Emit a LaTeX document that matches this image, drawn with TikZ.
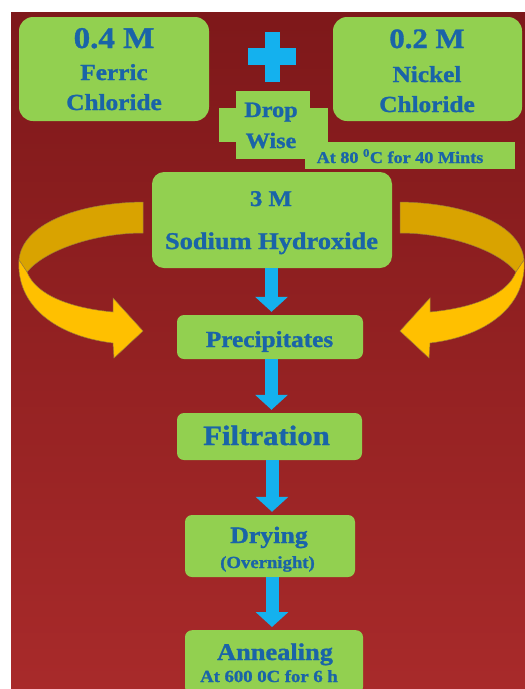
\documentclass[tikz,border=0pt]{standalone}
\usepackage{fontspec}
\setmainfont{Liberation Serif}[FakeStretch=1.1, BoldFeatures={FakeBold=1.2}]
\usetikzlibrary{arrows.meta}

\definecolor{bgtop}{HTML}{7E181A}
\definecolor{bgmid}{HTML}{A53030}
\definecolor{bgbot}{HTML}{A82A2A}
\definecolor{boxgreen}{HTML}{92D050}
\definecolor{txtblue}{HTML}{1A64A8}
\definecolor{flowblue}{HTML}{14B1EE}
\definecolor{swirlfront}{HTML}{FFC000}
\definecolor{swirlback}{HTML}{D9A300}
\definecolor{swirledge}{HTML}{9C7C38}

\begin{document}
\begin{tikzpicture}[x=1pt,y=-1pt,
    chem/.style={fill=boxgreen, rounded corners=14pt, inner sep=0pt},
    stepbox/.style={fill=boxgreen, rounded corners=7pt, inner sep=0pt},
    plainbox/.style={fill=boxgreen, inner sep=0pt},
    txt/.style={text=txtblue, anchor=base, inner sep=0pt, font=\bfseries\fontsize{#1}{#1}\selectfont},
    flow/.style={draw=flowblue, line width=13pt, -{Triangle[width=32pt,length=15pt]}, shorten >=3pt}]

    \useasboundingbox (0,0) rectangle (525,689);
    \clip (0,0) rectangle (525,689);

    % background
    \fill[white] (0,0) rectangle (525,689);
    \shade[top color=bgtop, middle color=bgmid, bottom color=bgbot] (11,12) rectangle (525,689);

    % swirling arrows, left one and its mirror image
    \foreach \s/\dx in {1/0, -1/543} {
        \begin{scope}[xshift=\dx pt, xscale=\s]
            \fill[swirlback, draw=swirledge, line width=0.5pt]
                (143,202) .. controls (75,203) and (22,225) .. (19,260)
                -- (27,272) .. controls (45,250) and (95,233) .. (143,233) -- cycle;
            \fill[swirlfront, draw=swirledge, line width=0.5pt]
                (19,260) .. controls (16,305) and (55,336) .. (113,343)
                -- (114,358) -- (143,331) -- (113,298) -- (113,312)
                .. controls (70,308) and (36,295) .. (27,272) -- cycle;
        \end{scope}
    }

    % starting solutions
    \node[chem, minimum width=190pt, minimum height=104pt] (ferric) at (114,69) {};
    \node[chem, minimum width=189pt, minimum height=104pt] (nickel) at (427.5,69) {};
    \node[txt=30] (ferric1) at (114,48) {0.4 M};
    \node[txt=23] (ferric2) at (114,80) {Ferric};
    \node[txt=23] (ferric3) at (114,110) {Chloride};
    \node[txt=28] (nickel1) at (427,48) {0.2 M};
    \node[txt=23] (nickel2) at (427,82) {Nickel};
    \node[txt=23] (nickel3) at (427,112) {Chloride};

    % plus sign
    \fill[flowblue] (248,48) rectangle (296,65);
    \fill[flowblue] (265,32) rectangle (280,82);

    % drop wise
    \fill[boxgreen] (219,108) rectangle (328,142);
    \node[plainbox, minimum width=74pt, minimum height=68pt] (drop) at (273,125) {};
    \node[plainbox, minimum width=210pt, minimum height=27pt] (cond) at (410,155.5) {};
    \node[txt=22] (drop1) at (271,117) {Drop};
    \node[txt=22] (drop2) at (271,148) {Wise};
    \node[txt=16.5] (cond1) at (400,163) {At 80 \textsuperscript{0}C for 40 Mints};

    % process steps
    \node[chem, rounded corners=12pt, minimum width=240pt, minimum height=96pt] (naoh) at (272,220) {};
    \node[stepbox, minimum width=186pt, minimum height=44pt] (precip) at (270,337) {};
    \node[stepbox, minimum width=185pt, minimum height=47pt] (filtr) at (269.5,436.5) {};
    \node[stepbox, minimum width=170pt, minimum height=62pt] (dry) at (270,546) {};
    \node[stepbox, minimum width=178pt, minimum height=64pt, anchor=north] (anneal) at (274,630) {};

    \node[txt=22.5] (naoh1) at (271,206) {3 M};
    \node[txt=24] (naoh2) at (271.5,249) {Sodium Hydroxide};
    \node[txt=23] (precip1) at (269.5,347) {Precipitates};
    \node[txt=28] (filtr1) at (266.5,445) {Filtration};
    \node[txt=23.5] (dry1) at (269,543) {Drying};
    \node[txt=17] (dry2) at (267.5,568) {(Overnight)};
    \node[txt=24] (anneal1) at (275,660) {Annealing};
    \node[txt=17] (anneal2) at (269,682) {At 600 0C for 6 h};

    % flow arrows
    \draw[flow] (naoh.south -| 271.5,0) -- (precip.north -| 271.5,0);
    \draw[flow] (precip.south -| 271.5,0) -- (filtr.north -| 271.5,0);
    \draw[flow] (filtr.south -| 272,0) -- (dry.north -| 272,0);
    \draw[flow] (dry.south -| 272,0) -- (anneal.north -| 272,0);
\end{tikzpicture}
\end{document}
